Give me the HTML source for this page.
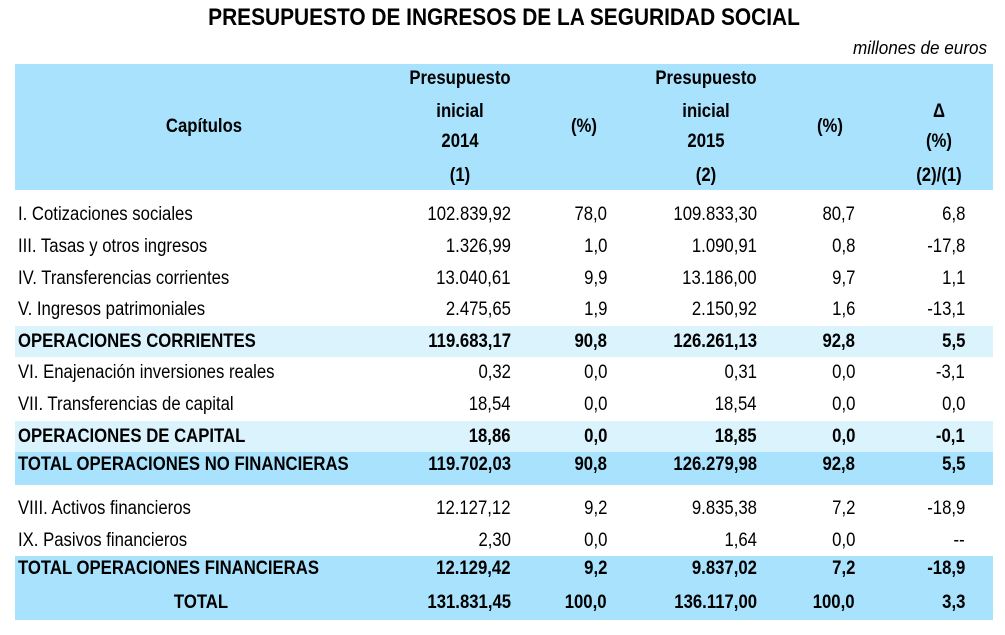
<!DOCTYPE html>
<html><head><meta charset="utf-8"><style>
body{margin:0;background:#fff;width:1005px;height:635px;position:relative;overflow:hidden;font-family:"Liberation Sans",Arial,sans-serif;color:#000}
.t{position:absolute;white-space:nowrap;font-size:19px;line-height:20px}
.band{position:absolute;left:15px;width:978px}
.l{transform:scaleX(.88);transform-origin:left center}
.r{transform:scaleX(.88);transform-origin:right center}
.c{transform:translateX(-50%) scaleX(.88);transform-origin:center center}
.b{font-weight:bold}
</style></head><body>
<div class="t b" style="left:504px;top:5px;font-size:24px;line-height:26px;transform:translateX(-50%) scaleX(.87)">PRESUPUESTO DE INGRESOS DE LA SEGURIDAD SOCIAL</div>
<div class="t" style="right:18px;top:38px;font-style:italic;font-size:18px;transform:scaleX(.95);transform-origin:right center">millones de euros</div>
<div class="band" style="top:64px;height:126px;background:#a8e2fc"></div>
<div id="root"></div>
<script>
const labels=["I. Cotizaciones sociales","III. Tasas y otros ingresos","IV. Transferencias corrientes","V. Ingresos patrimoniales","OPERACIONES CORRIENTES","VI. Enajenación inversiones reales","VII. Transferencias de capital","OPERACIONES DE CAPITAL","TOTAL OPERACIONES NO FINANCIERAS","VIII. Activos financieros","IX. Pasivos financieros","TOTAL OPERACIONES FINANCIERAS","TOTAL"];
const v2014=["102.839,92","1.326,99","13.040,61","2.475,65","119.683,17","0,32","18,54","18,86","119.702,03","12.127,12","2,30","12.129,42","131.831,45"];
const p2014=["78,0","1,0","9,9","1,9","90,8","0,0","0,0","0,0","90,8","9,2","0,0","9,2","100,0"];
const v2015=["109.833,30","1.090,91","13.186,00","2.150,92","126.261,13","0,31","18,54","18,85","126.279,98","9.835,38","1,64","9.837,02","136.117,00"];
const p2015=["80,7","0,8","9,7","1,6","92,8","0,0","0,0","0,0","92,8","7,2","0,0","7,2","100,0"];
const delta=["6,8","-17,8","1,1","-13,1","5,5","-3,1","0,0","-0,1","5,5","-18,9","--","-18,9","3,3"];
const rowY=[215,247,279,310,342,373,405,437,465,509,541,569,603];
const kind=["n","n","n","n","sub","n","n","sub","tot","n","n","tot","grand"];
const bands={sub:["#daf3fd",-16,31],tot:["#a8e2fc",-13,33],grand:["#a8e2fc",-15,32]};
const root=document.getElementById('root');
function txt(s,cls,x,y,side,name){const d=document.createElement('div');d.className='t '+cls;d.textContent=s;d.style.top=(y-10)+'px';if(side==='right'){d.style.right=(1005-x)+'px';}else d.style.left=x+'px';


root.appendChild(d);}
[["Presupuesto",460,79],["inicial",460,112],["2014",460,142],["(1)",460,176],["Presupuesto",706,79],["inicial",706,112],["2015",706,142],["(2)",706,176],["Capítulos",204,127],["(%)",584,127],["(%)",830,127],["Δ",939,112],["(%)",939,142],["(2)/(1)",939,176]].forEach(h=>txt(h[0],'b c',h[1],h[2],'left','header-cell'));
labels.forEach((lab,i)=>{const y=rowY[i],k=kind[i],bold=k!=='n'?' b':'';
if(bands[k]){const b=document.createElement('div');b.className='band';b.style.top=(y+bands[k][1])+'px';b.style.height=bands[k][2]+'px';b.style.background=bands[k][0];


root.insertBefore(b,root.firstChild);}
if(k==='grand')txt(lab,'c'+bold,201,y,'left','row-label');else txt(lab,'l'+bold,18,y,'left','row-label');
txt(v2014[i],'r'+bold,511,y,'right','value-2014');
txt(p2014[i],'r'+bold,607,y,'right','pct-2014');
txt(v2015[i],'r'+bold,757,y,'right','value-2015');
txt(p2015[i],'r'+bold,855,y,'right','pct-2015');
txt(delta[i],'r'+bold,965,y,'right','delta-pct');});
</script>
</body></html>
